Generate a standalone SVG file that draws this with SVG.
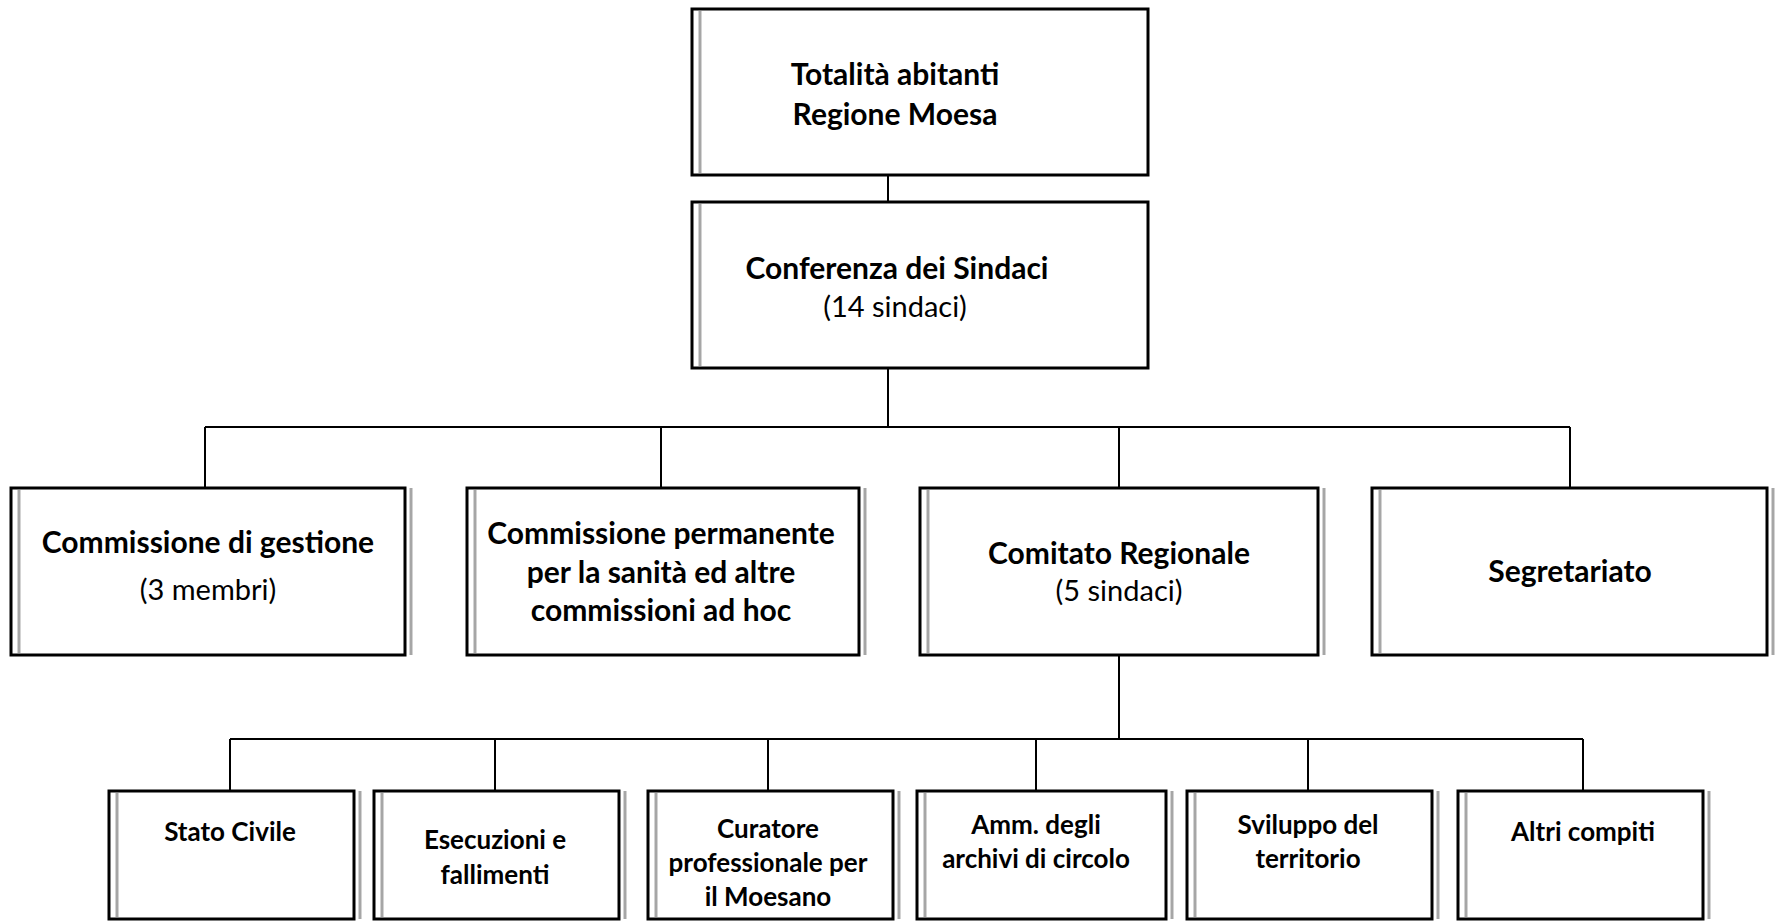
<svg xmlns="http://www.w3.org/2000/svg" width="1779" height="922" viewBox="0 0 1779 922">
<style>
.box{fill:#fff;stroke:#000;stroke-width:3}
.g{stroke:#a6a6a6;stroke-width:3;fill:none}
.c{stroke:#000;stroke-width:2;fill:none}
text{font-family:Lato,"Open Sans","Liberation Sans",sans-serif;text-anchor:middle;fill:#000}
.b{font-weight:bold;font-size:30px}
.r{font-weight:normal;font-size:29px}
.s{font-weight:bold;font-size:26px}
</style>
<rect width="1779" height="922" fill="#fff"/>
<g id="connectors">
<path class="c" d="M888 175V202M888 368V427M205 427H1570M205 427V488M661 427V488M1119 427V488M1570 427V488"/>
<path class="c" d="M1119 655V739M230 739H1583M230 739V791M495 739V791M768 739V791M1036 739V791M1308 739V791M1583 739V791"/>
</g>
<g id="n-totalita">
<rect class="box" x="692" y="9" width="456" height="166"/>
<line class="g" x1="700" y1="11" x2="700" y2="173"/>
<text class="b" x="895" y="85">Totalità abitanti</text>
<text class="b" x="895" y="125">Regione Moesa</text>
</g>
<g id="n-conferenza">
<rect class="box" x="692" y="202" width="456" height="166"/>
<line class="g" x1="700" y1="204" x2="700" y2="366"/>
<text class="b" x="897" y="279">Conferenza dei Sindaci</text>
<text class="r" x="895" y="317">(14 sindaci)</text>
</g>
<g id="n-gestione">
<rect class="box" x="11" y="488" width="394" height="167"/>
<line class="g" x1="19" y1="490" x2="19" y2="653"/>
<line class="g" x1="411" y1="488" x2="411" y2="655"/>
<text class="b" x="208" y="553">Commissione di gestione</text>
<text class="r" x="208" y="600">(3 membri)</text>
</g>
<g id="n-permanente">
<rect class="box" x="467" y="488" width="392" height="167"/>
<line class="g" x1="475" y1="490" x2="475" y2="653"/>
<line class="g" x1="865" y1="488" x2="865" y2="655"/>
<text class="b" x="661" y="544">Commissione permanente</text>
<text class="b" x="661" y="583">per la sanità ed altre</text>
<text class="b" x="661" y="621">commissioni ad hoc</text>
</g>
<g id="n-comitato">
<rect class="box" x="920" y="488" width="398" height="167"/>
<line class="g" x1="928" y1="490" x2="928" y2="653"/>
<line class="g" x1="1324" y1="488" x2="1324" y2="655"/>
<text class="b" x="1119" y="564">Comitato Regionale</text>
<text class="r" x="1119" y="601">(5 sindaci)</text>
</g>
<g id="n-segretariato">
<rect class="box" x="1372" y="488" width="395" height="167"/>
<line class="g" x1="1380" y1="490" x2="1380" y2="653"/>
<line class="g" x1="1773" y1="488" x2="1773" y2="655"/>
<text class="b" x="1570" y="582">Segretariato</text>
</g>
<g id="n-stato">
<rect class="box" x="109" y="791" width="245" height="128"/>
<line class="g" x1="117" y1="793" x2="117" y2="917"/>
<line class="g" x1="360" y1="791" x2="360" y2="919"/>
<text class="s" x="230" y="841">Stato Civile</text>
</g>
<g id="n-esecuzioni">
<rect class="box" x="374" y="791" width="245" height="128"/>
<line class="g" x1="382" y1="793" x2="382" y2="917"/>
<line class="g" x1="625" y1="791" x2="625" y2="919"/>
<text class="s" x="495" y="849">Esecuzioni e</text>
<text class="s" x="495" y="884">fallimenti</text>
</g>
<g id="n-curatore">
<rect class="box" x="648" y="791" width="245" height="128"/>
<line class="g" x1="656" y1="793" x2="656" y2="917"/>
<line class="g" x1="899" y1="791" x2="899" y2="919"/>
<text class="s" x="768" y="838">Curatore</text>
<text class="s" x="768" y="872">professionale per</text>
<text class="s" x="768" y="906">il Moesano</text>
</g>
<g id="n-archivi">
<rect class="box" x="917" y="791" width="249" height="128"/>
<line class="g" x1="925" y1="793" x2="925" y2="917"/>
<line class="g" x1="1172" y1="791" x2="1172" y2="919"/>
<text class="s" x="1036" y="834">Amm. degli</text>
<text class="s" x="1036" y="868">archivi di circolo</text>
</g>
<g id="n-sviluppo">
<rect class="box" x="1187" y="791" width="245" height="128"/>
<line class="g" x1="1195" y1="793" x2="1195" y2="917"/>
<line class="g" x1="1438" y1="791" x2="1438" y2="919"/>
<text class="s" x="1308" y="834">Sviluppo del</text>
<text class="s" x="1308" y="868">territorio</text>
</g>
<g id="n-altri">
<rect class="box" x="1458" y="791" width="245" height="128"/>
<line class="g" x1="1466" y1="793" x2="1466" y2="917"/>
<line class="g" x1="1709" y1="791" x2="1709" y2="919"/>
<text class="s" x="1583" y="841">Altri compiti</text>
</g>
</svg>
